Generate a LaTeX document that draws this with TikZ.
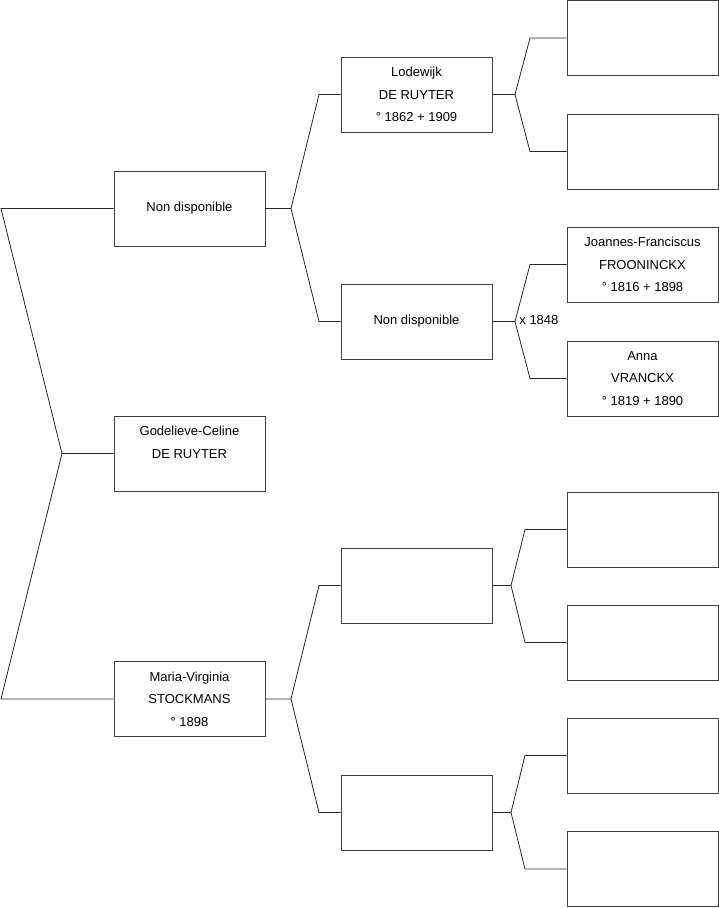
\documentclass[tikz,border=0pt]{standalone}
\usepackage{fontspec}
\setmainfont{Liberation Sans}

\begin{document}
\begin{tikzpicture}[x=1pt, y=-1pt, line width=0.8pt,
  person/.style={draw=black!75, minimum width=151pt, minimum height=75pt,
    inner sep=0pt, align=center, font=\fontsize{13}{22.5}\selectfont},
  link/.style={draw=black!85}]
  \useasboundingbox (0,0) rectangle (719,908);
  % Generation 1
  \node[person] (fa) at (189.5,208.5) {Non disponible};
  \node[person] (child) at (189.5,453.5) {Godelieve-Celine\\DE RUYTER\\~};
  \node[person] (mo) at (189.5,699) {Maria-Virginia\\STOCKMANS\\\textdegree{} 1898};
  % Generation 2
  \node[person] (ff) at (416.5,94.5) {Lodewijk\\DE RUYTER\\\textdegree{} 1862 + 1909};
  \node[person] (fm) at (416.5,321.5) {Non disponible};
  \node[person] (mf) at (416.5,585.5) {};
  \node[person] (mm) at (416.5,812.5) {};
  % Generation 3
  \node[person] (fff) at (642.5,38) {};
  \node[person] (ffm) at (642.5,151.5) {};
  \node[person] (fmf) at (642.5,264.5) {Joannes-Franciscus\\FROONINCKX\\\textdegree{} 1816 + 1898};
  \node[person] (fmm) at (642.5,378.5) {Anna\\VRANCKX\\\textdegree{} 1819 + 1890};
  \node[person] (mff) at (642.5,529.5) {};
  \node[person] (mfm) at (642.5,642.5) {};
  \node[person] (mmf) at (642.5,755.5) {};
  \node[person] (mmm) at (642.5,869) {};

  % forks
  \coordinate (k0) at (62,453.5);
  \coordinate (k0a) at (1,208.5);
  \coordinate (k0b) at (1,699);
  \draw[link] (fa.west) -- (k0a) -- (k0) -- (child.west);
  \draw[link] (k0) -- (k0b) -- (mo.west);

  \coordinate (kf) at (291,208.5);
  \coordinate (km) at (291,699);
  \draw[link] (fa.east) -- (kf) -- (319,94.5) -- (ff.west);
  \draw[link] (kf) -- (319,321.5) -- (fm.west);
  \draw[link] (mo.east) -- (km) -- (319,585.5) -- (mf.west);
  \draw[link] (km) -- (319,812.5) -- (mm.west);

  \coordinate (kff) at (515,94.5);
  \coordinate (kfm) at (515,321.5);
  \coordinate (kmf) at (511,585.5);
  \coordinate (kmm) at (511,812.5);
  \draw[link] (ff.east) -- (kff) -- (530,38) -- (fff.west);
  \draw[link] (kff) -- (530,151.5) -- (ffm.west);
  \draw[link] (fm.east) -- (kfm) -- (530,264.5) -- (fmf.west);
  \draw[link] (kfm) -- (530,378.5) -- (fmm.west);
  \draw[link] (mf.east) -- (kmf) -- (525,529.5) -- (mff.west);
  \draw[link] (kmf) -- (525,642.5) -- (mfm.west);
  \draw[link] (mm.east) -- (kmm) -- (525,755.5) -- (mmf.west);
  \draw[link] (kmm) -- (525,869) -- (mmm.west);
  \node[anchor=west, inner sep=0pt, font=\fontsize{13}{15}\selectfont] (wed) at (519,320) {x 1848};
\end{tikzpicture}
\end{document}
